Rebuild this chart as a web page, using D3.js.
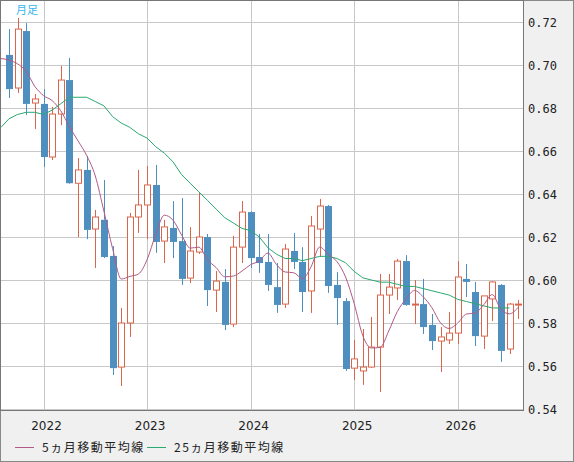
<!DOCTYPE html>
<html><head><meta charset="utf-8">
<script src="https://cdn.jsdelivr.net/npm/d3@7"></script>
<style>body{margin:0;background:#f0f0f0}svg{display:block}</style>
</head><body>
<svg id="chart" width="574" height="462"></svg>
<script>
// monthly candles, Sep 2021 .. Aug 2026
var opens  = [0.7047,0.6893,0.7158,0.6823,0.6819,0.6572,0.6772,0.6930,0.6450,0.6512,0.6237,0.6280,0.6112,0.5595,0.5800,0.6293,0.6349,0.6442,0.6181,0.6242,0.6181,0.6009,0.6130,0.6200,0.5953,0.5991,0.5795,0.6153,0.6316,0.6107,0.6084,0.5967,0.5888,0.6135,0.6084,0.5949,0.6237,0.6344,0.5977,0.5902,0.5590,0.5577,0.5595,0.5688,0.5930,0.5963,0.6088,0.5884,0.5888,0.5791,0.5716,0.5721,0.5753,0.6005,0.5944,0.5739,0.5912,0.5977,0.5679,0.5884];
var closes = [0.6888,0.7167,0.6819,0.6842,0.6572,0.6772,0.6930,0.6450,0.6512,0.6233,0.6293,0.6107,0.5590,0.5800,0.6293,0.6349,0.6442,0.6177,0.6247,0.6177,0.6005,0.6135,0.6200,0.5953,0.5995,0.5791,0.6153,0.6316,0.6102,0.6079,0.5977,0.5884,0.6144,0.6084,0.5944,0.6251,0.6344,0.5972,0.5916,0.5586,0.5633,0.5595,0.5688,0.5930,0.5967,0.6088,0.5884,0.5888,0.5781,0.5716,0.5735,0.5753,0.6014,0.5991,0.5739,0.5926,0.5991,0.5670,0.5888,0.5888];
var highs  = [0.7167,0.7219,0.7195,0.6865,0.6888,0.6805,0.6995,0.7033,0.6567,0.6577,0.6326,0.6465,0.6158,0.5870,0.6312,0.6512,0.6530,0.6535,0.6280,0.6367,0.6381,0.6246,0.6409,0.6214,0.6042,0.6051,0.6205,0.6367,0.6320,0.6214,0.6214,0.6079,0.6167,0.6219,0.6153,0.6298,0.6377,0.6349,0.6037,0.5916,0.5721,0.5772,0.5828,0.6028,0.6028,0.6098,0.6116,0.6000,0.6005,0.5842,0.5781,0.5851,0.6088,0.6074,0.5991,0.5926,0.5995,0.5981,0.5893,0.5907];
var lows   = [0.6847,0.6870,0.6767,0.6702,0.6526,0.6558,0.6720,0.6447,0.6200,0.6190,0.6056,0.6102,0.5558,0.5507,0.5735,0.6219,0.6190,0.6126,0.6079,0.6102,0.5977,0.5986,0.6121,0.5879,0.5851,0.5767,0.5781,0.6079,0.6056,0.6033,0.5949,0.5847,0.5870,0.6051,0.5851,0.5847,0.6107,0.5940,0.5791,0.5577,0.5535,0.5512,0.5591,0.5479,0.5842,0.5907,0.5880,0.5795,0.5749,0.5674,0.5572,0.5702,0.5702,0.5921,0.5693,0.5679,0.5809,0.5619,0.5656,0.5819];
// 5-month MA for the first months (needs data before the window), from left edge
var ma5Head = [0.7030,0.7023,0.7005,0.6970,0.6900];
// 25-month MA, from left edge
var ma25 = [0.671,0.675,0.677,0.678,0.678,0.677,0.679,0.682,0.685,0.685,0.685,0.683,0.681,0.676,0.673,0.671,0.668,0.666,0.662,0.659,0.655,0.649,0.645,0.641,0.637,0.633,0.629,0.6265,0.624,0.623,0.620,0.615,0.612,0.610,0.610,0.609,0.610,0.611,0.611,0.610,0.608,0.604,0.601,0.600,0.599,0.599,0.598,0.597,0.597,0.596,0.595,0.594,0.593,0.591,0.590,0.589,0.588,0.587,0.587,0.587];
var years = [2022,2023,2024,2025,2026];
var yTicks = [0.54,0.56,0.58,0.60,0.62,0.64,0.66,0.68,0.70,0.72];

// index -1 is the plot's left edge
var ma5 = [ma5Head[0]].concat(closes.map(function(c,i){
  if(i<4) return ma5Head[i+1];
  return d3.mean(closes.slice(i-4,i+1));
}));

var svg = d3.select("#chart");
var W = 523, H = 410;
var x = d3.scaleLinear().domain([0,1]).range([9,17.63]); // one month = 8.63px
var y = d3.scaleLinear().domain([0.54,0.72]).range([409,22]);
var xm = function(i){ return i===0 ? 1 : x(i-1); };

svg.append("rect").attr("x",0.5).attr("y",0.5).attr("width",573).attr("height",461)
  .attr("fill","#f0f0f0").attr("stroke","#888");
svg.append("rect").attr("x",1).attr("y",1).attr("width",W-1).attr("height",H-1).attr("fill","#fff");

// grid
svg.selectAll(".hg").data(yTicks).enter().append("line")
  .attr("x1",1).attr("x2",W).attr("y1",function(d){return Math.round(y(d))+0.5;})
  .attr("y2",function(d){return Math.round(y(d))+0.5;}).attr("stroke","#c8c8c8");
svg.selectAll(".vg").data(years).enter().append("line")
  .attr("y1",1).attr("y2",H).attr("x1",function(d){return Math.round(x((d-2022)*12+4))+0.5;})
  .attr("x2",function(d){return Math.round(x((d-2022)*12+4))+0.5;}).attr("stroke","#c8c8c8");

svg.append("rect").attr("x",0.5).attr("y",0.5).attr("width",W).attr("height",H)
  .attr("fill","none").attr("stroke","#777");

// candles
var g = svg.append("g");
d3.range(opens.length).forEach(function(i){
  var up = closes[i] >= opens[i];
  var col = up ? "#d9664a" : "#4f8fc0";
  var cx = Math.round(x(i))+0.5;
  var top = y(Math.max(opens[i],closes[i])), bot = y(Math.min(opens[i],closes[i]));
  g.append("line").attr("x1",cx).attr("x2",cx).attr("y1",y(highs[i])).attr("y2",top).attr("stroke",col);
  g.append("line").attr("x1",cx).attr("x2",cx).attr("y1",bot).attr("y2",y(lows[i])).attr("stroke",col);
  if(up){
    g.append("rect").attr("x",cx-3).attr("y",top).attr("width",6).attr("height",Math.max(1,bot-top))
      .attr("fill","#fff").attr("stroke",col);
  } else {
    g.append("rect").attr("x",cx-3.5).attr("y",top).attr("width",7).attr("height",Math.max(1,bot-top))
      .attr("fill",col);
  }
});

var line = d3.line().x(function(d,i){return xm(i);}).y(function(d){return y(d);});
svg.append("path").datum(ma25).attr("d",line).attr("fill","none").attr("stroke","#2aa870").attr("stroke-width",1);
svg.append("path").datum(ma5).attr("d",line.curve(d3.curveMonotoneX)).attr("fill","none").attr("stroke","#b05a85").attr("stroke-width",1);

svg.selectAll(".yl").data(yTicks).enter().append("text")
  .attr("x",528).attr("y",function(d){return y(d)+5;})
  .attr("font-family","DejaVu Sans Mono").attr("font-size",12).attr("fill","#222")
  .text(function(d){return d.toFixed(2);});

svg.selectAll(".xl").data(years).enter().append("text")
  .attr("x",function(d){return x((d-2022)*12+4)+3;}).attr("y",430).attr("text-anchor","middle")
  .attr("font-family","DejaVu Sans").attr("font-size",12).attr("fill","#222")
  .text(function(d){return d;});

svg.append("text").attr("x",16).attr("y",14).attr("font-family","Noto Sans CJK JP").attr("font-size",11)
  .attr("fill","#33b5ee").text("月足");

var legend = [{t:"5ヵ月移動平均線",c:"#b05a85",x:15},{t:"25ヵ月移動平均線",c:"#2aa870",x:147}];
legend.forEach(function(l){
  svg.append("line").attr("x1",l.x).attr("x2",l.x+19).attr("y1",447.5).attr("y2",447.5).attr("stroke",l.c);
  svg.append("text").attr("x",l.x+27).attr("y",452).attr("font-family","Noto Sans CJK JP").attr("font-size",12)
    .attr("letter-spacing",1.5).attr("fill","#222").text(l.t);
});
</script>
</body></html>
